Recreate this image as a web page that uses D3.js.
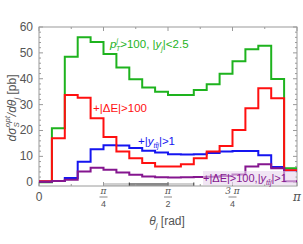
<!DOCTYPE html>
<html><head><meta charset="utf-8">
<script src="https://cdn.jsdelivr.net/npm/d3@7"></script>
<style>body{margin:0;background:#fff}svg{display:block}</style>
</head><body>
<svg id="c" width="303" height="244"></svg>
<script>
const nBins = 20;
const greenVals  = [0, 20.9, 48.5, 56, 54.2, 49.6, 44.3, 39.8, 36.6, 35.0, 33.7, 33.7, 35.7, 37.9, 41.9, 46.8, 51.4, 52.8, 39.9, 5.4];
const redVals    = [0.4, 17, 33.7, 32.7, 24.7, 17.5, 11.9, 9.3, 7.4, 6.1, 6.1, 7.0, 9.3, 11.9, 14.0, 20.2, 28.6, 36.3, 32.5, 4.6];
const blueVals   = [0.3, 0.5, 1.6, 7.9, 12.8, 14.3, 14.2, 13.2, 12.2, 11.5, 10.8, 10.7, 10.8, 11.3, 11.9, 12.1, 12.1, 10.4, 5.9, 4.5];
const purpleVals = [0.2, 0.5, 1.0, 4.2, 5.6, 4.8, 3.8, 2.9, 2.2, 1.9, 1.8, 1.9, 2.0, 2.1, 2.4, 3.0, 6.1, 7.0, 5.4, 0.4];
const yTicks = [0, 10, 20, 30, 40, 50, 60];
const xTickFracs = [0, 0.25, 0.5, 0.75, 1];
const xTickLabels = [["0"], ["π","4"], ["π","2"], ["3 π","4"], ["π"]];
const lightBand = [0.25, 0.6];
const darkBand = [0.35, 0.5];

const svg = d3.select("#c");
const L = 39, R = 297, T = 27, B = 186;
const x = d3.scaleLinear().domain([0, Math.PI]).range([L, R]);
const y = d3.scaleLinear().domain([-1.45, 60]).range([B, T]);
const gray = "#9a9a9a", txt = "#555";
const font = "'Liberation Sans', Arial, sans-serif";

// bands
[[lightBand, "#cfcfcf"], [darkBand, "#8a8a8a"]].forEach(([b, c]) => {
  svg.append("rect").attr("x", x(b[0]*Math.PI)).attr("width", x(b[1]*Math.PI) - x(b[0]*Math.PI))
    .attr("y", B - 3).attr("height", 3).attr("fill", c);
});
[lightBand[0], darkBand[0], darkBand[1], lightBand[1]].forEach(f => {
  svg.append("line").attr("x1", x(f*Math.PI)).attr("x2", x(f*Math.PI)).attr("y1", B - 3.5).attr("y2", B).attr("stroke", "#333").attr("stroke-width", 1);
});

// frame
svg.append("rect").attr("x", L).attr("y", T).attr("width", R - L).attr("height", B - T)
  .attr("fill", "none").attr("stroke", gray).attr("stroke-width", 1);

// y ticks
const yMinor = d3.range(0, 61, 2);
yMinor.forEach(v => {
  const major = v % 10 === 0;
  const len = major ? 4 : 2;
  svg.append("line").attr("x1", L).attr("x2", L + len).attr("y1", y(v)).attr("y2", y(v)).attr("stroke", gray);
  svg.append("line").attr("x1", R).attr("x2", R - len).attr("y1", y(v)).attr("y2", y(v)).attr("stroke", gray);
});
svg.selectAll(".yl").data(yTicks).enter().append("text")
  .attr("x", L - 6).attr("y", d => y(d) + 4).attr("text-anchor", "end")
  .attr("font-family", font).attr("font-size", 12).attr("fill", txt).text(d => d);

// x ticks
d3.range(0, 1.0001, 0.125).forEach(f => {
  const major = Math.abs(f*4 - Math.round(f*4)) < 1e-6;
  const len = major ? 4 : 2;
  svg.append("line").attr("x1", x(f*Math.PI)).attr("x2", x(f*Math.PI)).attr("y1", B).attr("y2", B - len).attr("stroke", gray);
  svg.append("line").attr("x1", x(f*Math.PI)).attr("x2", x(f*Math.PI)).attr("y1", T).attr("y2", T + len).attr("stroke", gray);
});
xTickFracs.forEach((f, i) => {
  const lab = xTickLabels[i];
  const cx = x(f*Math.PI);
  if (lab.length === 1) {
    svg.append("text").attr("x", cx).attr("y", 201).attr("text-anchor", "middle")
      .attr("font-family", lab[0] === "π" ? "'DejaVu Serif', serif" : font)
      .attr("font-style", lab[0] === "π" ? "italic" : "normal")
      .attr("font-size", 12).attr("fill", txt).text(lab[0]);
  } else {
    svg.append("text").attr("x", cx).attr("y", 194).attr("text-anchor", "middle")
      .attr("font-family", "'DejaVu Serif', serif").attr("font-style", "italic")
      .attr("font-size", 9).attr("fill", txt).text(lab[0]);
    svg.append("line").attr("x1", cx - 4).attr("x2", cx + 4).attr("y1", 197).attr("y2", 197).attr("stroke", txt).attr("stroke-width", 0.7);
    svg.append("text").attr("x", cx).attr("y", 207).attr("text-anchor", "middle")
      .attr("font-family", font).attr("font-size", 9).attr("fill", txt).text(lab[1]);
  }
});

// axis titles
const xt = svg.append("text").attr("x", 167).attr("y", 225).attr("text-anchor", "middle")
  .attr("font-family", font).attr("font-size", 12).attr("fill", txt);
xt.append("tspan").attr("font-style", "italic").text("θ");
xt.append("tspan").attr("font-style", "italic").attr("font-size", 8).attr("dy", 3).text("j");
xt.append("tspan").attr("dy", -3).text(" [rad]");

const yt = svg.append("text").attr("transform", "translate(16,108) rotate(-90)").attr("text-anchor", "middle")
  .attr("font-family", font).attr("font-size", 12).attr("fill", txt);
yt.append("tspan").attr("font-style", "italic").text("dσ");
yt.append("tspan").attr("font-style", "italic").attr("font-size", 8).attr("dy", 3).text("S");
yt.append("tspan").attr("font-style", "italic").attr("font-size", 8).attr("dx", -5).attr("dy", -9).text("opt");
yt.append("tspan").attr("font-style", "italic").attr("dy", 6).text("/dθ");
yt.append("tspan").attr("font-style", "italic").attr("font-size", 8).attr("dy", 3).text("j");
yt.append("tspan").attr("dy", -3).text(" [pb]");

// histograms
const edges = d3.range(nBins + 1).map(i => i * Math.PI / nBins);
const line = d3.line().curve(d3.curveStepAfter).x(d => x(d[0])).y(d => y(d[1]));
function hist(vals, color) {
  const pts = edges.map((e, i) => [e, vals[Math.min(i, nBins - 1)]]);
  svg.append("path").attr("d", line(pts)).attr("fill", "none").attr("stroke", color)
    .attr("stroke-width", 2).attr("stroke-linejoin", "miter");
}
hist(greenVals, "#1eb31e");
hist(blueVals, "#1515f0");
hist(redVals, "#ff1010");
hist(purpleVals, "#85168f");

// labels
const gl = svg.append("text").attr("x", 110).attr("y", 48).attr("font-family", font).attr("font-size", 11.5).attr("fill", "#1eb31e");
gl.append("tspan").attr("font-style", "italic").text("p");
gl.append("tspan").attr("font-style", "italic").attr("font-size", 7).attr("dy", -5).text("j");
gl.append("tspan").attr("font-style", "italic").attr("font-size", 7).attr("dx", -2).attr("dy", 8).text("T");
gl.append("tspan").attr("dy", -3).text(">100, |");
gl.append("tspan").attr("font-style", "italic").text("y");
gl.append("tspan").attr("font-style", "italic").attr("font-size", 7).attr("dy", 3).text("j");
gl.append("tspan").attr("dy", -3).text("|<2.5");

svg.append("text").attr("x", 93).attr("y", 112).attr("font-family", font).attr("font-size", 11.5)
  .attr("fill", "#ff1010").text("+|ΔE|>100");

const bl = svg.append("text").attr("x", 138).attr("y", 145).attr("font-family", font).attr("font-size", 11.5).attr("fill", "#1515f0");
bl.append("tspan").text("+|");
bl.append("tspan").attr("font-style", "italic").text("y");
bl.append("tspan").attr("font-style", "italic").attr("font-size", 7).attr("dy", 3).text("tt\u0304j");
bl.append("tspan").attr("dy", -3).text("|>1");

svg.append("rect").attr("x", 203).attr("y", 171).attr("width", 93).attr("height", 14)
  .attr("fill", "#e8d6ec").attr("opacity", 0.6);
const pl = svg.append("text").attr("x", 203).attr("y", 182).attr("font-family", font).attr("font-size", 11).attr("fill", "#85168f");
pl.append("tspan").text("+|ΔE|>100,|");
pl.append("tspan").attr("font-style", "italic").text("y");
pl.append("tspan").attr("font-style", "italic").attr("font-size", 7).attr("dy", 3).text("tt\u0304j");
pl.append("tspan").attr("dy", -3).text("|>1");
</script>
</body></html>
